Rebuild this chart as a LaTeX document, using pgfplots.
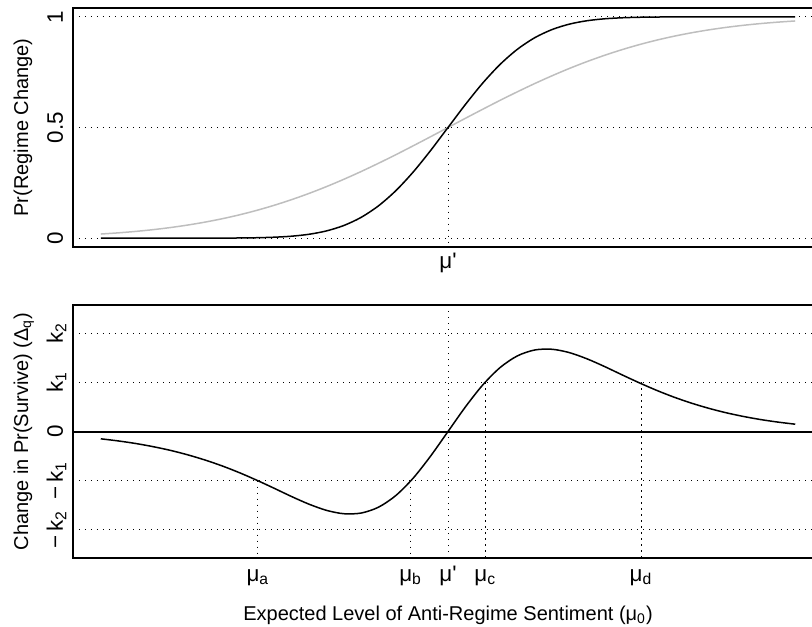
\documentclass[border=0pt]{standalone}
\usepackage{fontspec}
\setmainfont{Liberation Sans}
\newfontfamily\hv{Liberation Sans}
\usepackage{pgfplots}
\pgfplotsset{compat=1.18}
\usepackage{pgfplotstable}

\definecolor{curvegray}{RGB}{190,190,190}
\newcommand\lbl{\hv\fontsize{11.2}{13.4}\selectfont}

% x, Pr(regime change) steep (black) and flat (gray), difference in k units
\pgfplotstableread{
x      black   gray    diff
-1.00  0.0000  0.0186  -0.149
-0.95  0.0000  0.0239  -0.192
-0.90  0.0000  0.0304  -0.244
-0.85  0.0000  0.0383  -0.308
-0.80  0.0000  0.0478  -0.384
-0.75  0.0000  0.0591  -0.475
-0.70  0.0001  0.0724  -0.581
-0.65  0.0003  0.0878  -0.703
-0.60  0.0008  0.1056  -0.842
-0.55  0.0019  0.1259  -0.996
-0.50  0.0043  0.1488  -1.160
-0.45  0.0089  0.1743  -1.328
-0.40  0.0176  0.2023  -1.483
-0.35  0.0327  0.2329  -1.608
-0.30  0.0572  0.2660  -1.677
-0.25  0.0941  0.3012  -1.663
-0.20  0.1463  0.3385  -1.543
-0.15  0.2149  0.3773  -1.304
-0.10  0.2993  0.4175  -0.949
-0.05  0.3962  0.4585  -0.500
 0.00  0.5000  0.5000   0.000
 0.05  0.6038  0.5415   0.500
 0.10  0.7007  0.5825   0.949
 0.15  0.7851  0.6227   1.304
 0.20  0.8537  0.6615   1.543
 0.25  0.9059  0.6988   1.663
 0.30  0.9428  0.7340   1.677
 0.35  0.9673  0.7671   1.608
 0.40  0.9824  0.7977   1.483
 0.45  0.9911  0.8257   1.328
 0.50  0.9957  0.8512   1.160
 0.55  0.9981  0.8741   0.996
 0.60  0.9992  0.8944   0.842
 0.65  0.9997  0.9122   0.703
 0.70  0.9999  0.9276   0.581
 0.75  1.0000  0.9409   0.475
 0.80  1.0000  0.9522   0.384
 0.85  1.0000  0.9617   0.308
 0.90  1.0000  0.9696   0.244
 0.95  1.0000  0.9761   0.192
 1.00  1.0000  0.9814   0.149
}\curves

\pgfplotsset{
  panel/.style={
    scale only axis, width=375pt,
    xmin=-1.08, xmax=1.08,
    axis line style={line width=0.8pt},
    major tick length=0pt,
    tick label style={font=\lbl},
    label style={font=\lbl},
    ymajorgrids,
    grid style={line width=0.5pt, dash pattern=on 0.6pt off 2.4pt, black},
    yticklabel style={rotate=90, anchor=base},
    yticklabel shift=5pt,
    xticklabel style={anchor=base},
    xticklabel shift=10.8pt,
    every axis y label/.style={at={(axis description cs:-0.06,0.5)}, rotate=90, anchor=base},
  },
  refline/.style={line width=0.5pt, dash pattern=on 0.6pt off 2.4pt, black},
  curve/.style={line width=0.75pt, smooth},
}

\begin{document}
\begin{tikzpicture}
\useasboundingbox (0,0) rectangle (406pt,-313pt);

% top panel
\begin{axis}[panel,
  at={(36.5pt,-4pt)}, anchor=north west,
  height=119.5pt,
  ymin=-0.04, ymax=1.04,
  ytick={0,0.5,1}, yticklabels={0,0.5,1},
  xtick={0}, xticklabels={μ\textquotesingle},
  ylabel={Pr(Regime Change)},
]
\addplot[refline] coordinates {(0,0.5) (0,-0.04)};
\addplot[curvegray, curve] table[x=x, y=gray] {\curves};
\addplot[black, curve] table[x=x, y=black] {\curves};
\end{axis}

% bottom panel
\begin{axis}[panel,
  at={(36.5pt,-152.5pt)}, anchor=north west,
  height=126.5pt,
  ymin=-2.58, ymax=2.58,
  ytick={-2,-1,0,1,2},
  yticklabels={−\,k\textsubscript{2}, −\,k\textsubscript{1}, 0, k\textsubscript{1}, k\textsubscript{2}},
  xtick={-0.5476,-0.1076,0,0.1076,0.556},
  xticklabels={μ\textsubscript{a}, μ\textsubscript{b}, μ\textquotesingle, μ\textsubscript{c}, μ\textsubscript{d}},
  xticklabel shift=11.5pt,
  ylabel={Change in Pr(Survive) (Δ\textsubscript{q})},
  xlabel={Expected Level of Anti-Regime Sentiment (μ\textsubscript{0})},
  every axis x label/.style={at={(axis description cs:0.5,0)}, anchor=base, yshift=-31pt},
]
\addplot[refline] coordinates {(0,-2.58) (0,2.58)};
\addplot[refline] coordinates {(-0.5476,-1) (-0.5476,-2.58)};
\addplot[refline] coordinates {(-0.1076,-1) (-0.1076,-2.58)};
\addplot[refline] coordinates {(0.1076,1) (0.1076,-2.58)};
\addplot[refline] coordinates {(0.556,1) (0.556,-2.58)};
\addplot[black, line width=1pt] coordinates {(-1.08,0) (1.08,0)};
\addplot[black, curve] table[x=x, y=diff] {\curves};
\end{axis}
\end{tikzpicture}
\end{document}
